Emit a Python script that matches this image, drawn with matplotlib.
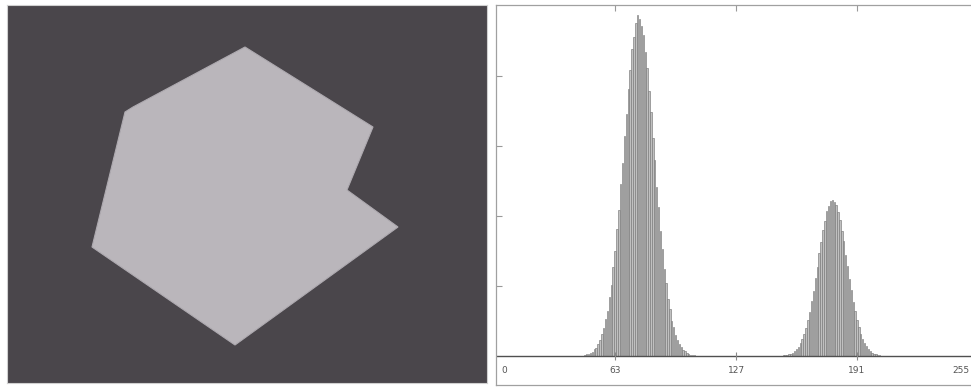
import matplotlib.pyplot as plt
import numpy as np

# Polygon of the bright object (pixel coords inside the left image)
poly_x = [238, 366, 340, 391, 228, 85, 118, 126]
poly_y = [42, 122, 185, 222, 340, 242, 107, 102]
img_w, img_h = 480, 378

# Histogram of grey levels
dark_levels = np.arange(47, 106)
dark_counts = [15, 22, 30, 48, 62, 95, 120, 175, 225, 310, 395, 525, 650, 840, 1010,
               1270, 1500, 1810, 2090, 2450, 2760, 3140, 3450, 3810, 4080, 4380, 4560,
               4760, 4870, 4820, 4720, 4590, 4340, 4110, 3780, 3490, 3110, 2800, 2420,
               2130, 1780, 1530, 1240, 1040, 815, 670, 505, 410, 300, 235, 168, 128,
               88, 66, 44, 32, 20, 14, 9]
bright_levels = np.arange(152, 205)
bright_counts = [8, 12, 16, 24, 33, 50, 68, 100, 132, 185, 240, 320, 405, 520, 635,
                 785, 935, 1110, 1275, 1465, 1625, 1800, 1935, 2070, 2150, 2215, 2230,
                 2205, 2160, 2055, 1950, 1790, 1640, 1450, 1290, 1100, 945, 775, 645,
                 510, 415, 315, 248, 180, 138, 96, 72, 48, 35, 22, 16, 10, 6]
xticks = [0, 63, 127, 191, 255]
yticks = [1000, 2000, 3000, 4000]

W, H = 971, 387
fig = plt.figure(figsize=(W / 100, H / 100), dpi=100)
fig.patch.set_facecolor('white')

# left: the image
ax1 = fig.add_axes([7 / W, (H - 383) / H, img_w / W, img_h / H])
ax1.set_facecolor('#4a464b')
ax1.fill(poly_x, poly_y, color='#bab6bb', lw=0.8, ec='#aeaab0')
ax1.set_xlim(0, img_w)
ax1.set_ylim(img_h, 0)
ax1.set_xticks([])
ax1.set_yticks([])
for s in ax1.spines.values():
    s.set_color('#d0d0d0')
    s.set_linewidth(0.8)

# right: the histogram
px_unit = 1.89
x0_px = 496
ax2 = fig.add_axes([x0_px / W, (H - 385) / H, 262 * px_unit / W, 380 / H])
ax2.set_xlim(0, 262)
ax2.set_ylim(-414, 5014)
ax2.bar(dark_levels, dark_counts, width=0.75, color='#c0c0c0', edgecolor='#7a7a7a', linewidth=0.45)
ax2.bar(bright_levels, bright_counts, width=0.75, color='#c0c0c0', edgecolor='#7a7a7a', linewidth=0.45)
ax2.axhline(0, color='#505050', lw=1.0)
ax2.vlines(xticks[1:4], -60, 60, color='#888888', lw=0.8)

ax2.set_xticks(xticks[1:4])
ax2.tick_params(axis='x', bottom=False, top=True, labelbottom=False, direction='in',
                length=4, color='#999999')
ax2.set_yticks(yticks)
ax2.tick_params(axis='y', left=True, right=True, labelleft=False, direction='in',
                length=4, color='#999999')
for i, t in enumerate(xticks):
    if i == 0:
        ax2.text(t + 3, -214, str(t), ha='left', va='center', fontsize=6.5, color='#555555')
    elif i == len(xticks) - 1:
        # last label pulled in so it stays inside the figure
        ax2.text(t - 4.5, -214, str(t), ha='right', va='center', fontsize=6.5, color='#555555')
    else:
        ax2.text(t, -214, str(t), ha='center', va='center', fontsize=6.5, color='#555555')
for s in ax2.spines.values():
    s.set_color('#a0a0a0')
    s.set_linewidth(0.9)

fig.savefig('out.png', dpi=100)
